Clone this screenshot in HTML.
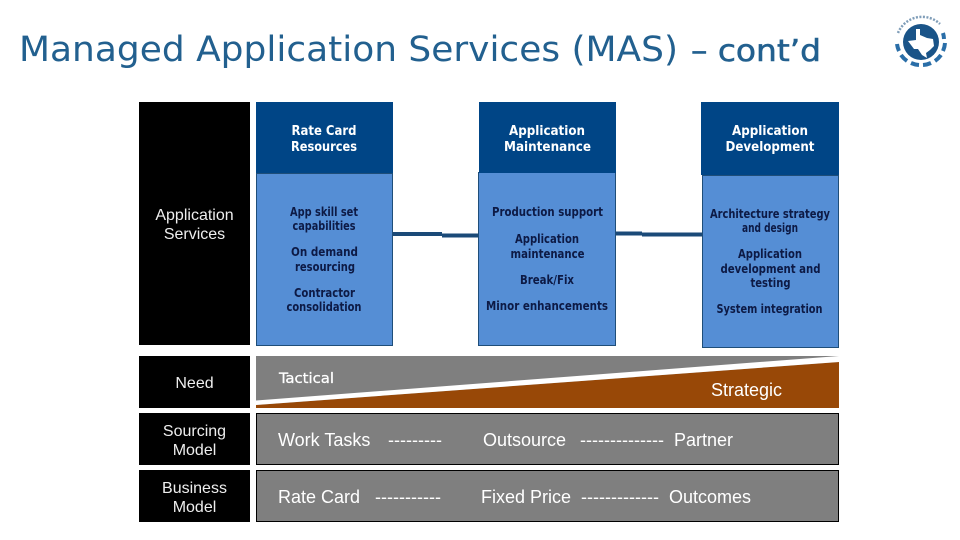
<!DOCTYPE html>
<html>
<head>
<meta charset="utf-8">
<style>
html,body{margin:0;padding:0;background:#fff;width:960px;height:540px;overflow:hidden}
svg{display:block}
text{font-family:"DejaVu Sans Condensed","DejaVu Sans","Liberation Sans",sans-serif}
.a{font-family:"Liberation Sans",sans-serif;fill:#eee;text-anchor:middle;font-size:16px}
.h{fill:#fff;font-weight:bold;font-size:13px;text-anchor:middle}
.b{fill:#0d1a45;font-weight:bold;font-size:12px;text-anchor:middle}
.g{font-family:"Liberation Sans",sans-serif;fill:#fff;font-size:18px}
</style>
</head>
<body>
<svg width="960" height="540" viewBox="0 0 960 540" xmlns="http://www.w3.org/2000/svg">
<rect width="960" height="540" fill="#fff"/>
<text x="19" y="61" font-size="35" fill="#22608f" textLength="659" lengthAdjust="spacingAndGlyphs" style='font-family:"DejaVu Sans",sans-serif'>Managed Application Services (MAS)</text>
<text x="691" y="61" font-size="30" fill="#22608f" stroke="#22608f" stroke-width=".5" textLength="130" lengthAdjust="spacingAndGlyphs">– cont’d</text>

<!-- logo -->
<circle cx="921" cy="42" r="18" fill="#1a5488"/>
<polygon points="916,29 920,29 920,35 927,38 933,39 934,46 930,50 926,53 927,58 922,55 918,49 914,49 911,45 908,41 916,40" fill="#fff"/>
<g fill="none" stroke="#2a6ea8" stroke-width="4">
<path d="M943 33a24 24 0 0 1 1 6"/>
<path d="M945 43a24 24 0 0 1-2 8"/>
<path d="M941 55a24 24 0 0 1-6 6"/>
<path d="M931 63a24 24 0 0 1-8 2"/>
<path d="M919 65a24 24 0 0 1-8-2"/>
<path d="M907 61a24 24 0 0 1-6-6"/>
<path d="M899 51a24 24 0 0 1-2-7"/>
</g>
<path d="M898 33a26 26 0 0 1 42-9" fill="none" stroke="#7f9db8" stroke-width="2.5" stroke-dasharray="2 1.5"/>

<!-- left black -->
<rect x="139" y="102" width="111" height="243" fill="#000"/>
<text class="a" x="194.500" y="220">Application</text>
<text class="a" x="194.500" y="239">Services</text>

<!-- connectors -->
<g fill="#1b4a78">
<rect x="393" y="232" width="49" height="4"/>
<rect x="442" y="233.500" width="37" height="4"/>
<rect x="616" y="231.500" width="26" height="4"/>
<rect x="642" y="232.500" width="60" height="4"/>
</g>

<!-- col 1 -->
<rect x="256.500" y="173.500" width="136" height="172" fill="#558ed5" stroke="#1f4e79"/>
<rect x="256" y="102" width="137" height="71" fill="#004586"/>
<text class="h" x="324" y="135" textLength="65" lengthAdjust="spacingAndGlyphs">Rate Card</text>
<text class="h" x="324" y="151" textLength="66" lengthAdjust="spacingAndGlyphs">Resources</text>
<text class="b" x="324" y="216" textLength="68" lengthAdjust="spacingAndGlyphs">App skill set</text>
<text class="b" x="324" y="230" textLength="63" lengthAdjust="spacingAndGlyphs">capabilities</text>
<text class="b" x="324.500" y="256" textLength="67" lengthAdjust="spacingAndGlyphs">On demand</text>
<text class="b" x="325" y="271" textLength="60" lengthAdjust="spacingAndGlyphs">resourcing</text>
<text class="b" x="324.500" y="297" textLength="61" lengthAdjust="spacingAndGlyphs">Contractor</text>
<text class="b" x="324" y="311" textLength="75" lengthAdjust="spacingAndGlyphs">consolidation</text>

<!-- col 2 -->
<rect x="478.500" y="172.500" width="137" height="173" fill="#558ed5" stroke="#1f4e79"/>
<rect x="479" y="102" width="137" height="71" fill="#004586"/>
<text class="h" x="547" y="135" textLength="76" lengthAdjust="spacingAndGlyphs">Application</text>
<text class="h" x="547.500" y="151" textLength="87" lengthAdjust="spacingAndGlyphs">Maintenance</text>
<text class="b" x="547.500" y="216" textLength="111" lengthAdjust="spacingAndGlyphs">Production support</text>
<text class="b" x="547" y="243" textLength="64" lengthAdjust="spacingAndGlyphs">Application</text>
<text class="b" x="547.500" y="258" textLength="74" lengthAdjust="spacingAndGlyphs">maintenance</text>
<text class="b" x="547" y="284" textLength="54" lengthAdjust="spacingAndGlyphs">Break/Fix</text>
<text class="b" x="547" y="310" textLength="122" lengthAdjust="spacingAndGlyphs">Minor enhancements</text>

<!-- col 3 -->
<rect x="702.500" y="175.500" width="136" height="172" fill="#558ed5" stroke="#1f4e79"/>
<rect x="701" y="102" width="138" height="73" fill="#004586"/>
<text class="h" x="770" y="135" textLength="76" lengthAdjust="spacingAndGlyphs">Application</text>
<text class="h" x="770" y="151" textLength="89" lengthAdjust="spacingAndGlyphs">Development</text>
<text class="b" x="770" y="218" textLength="120" lengthAdjust="spacingAndGlyphs">Architecture strategy</text>
<text class="b" x="770" y="232" textLength="56" lengthAdjust="spacingAndGlyphs">and design</text>
<text class="b" x="770" y="258" textLength="64" lengthAdjust="spacingAndGlyphs">Application</text>
<text class="b" x="770.500" y="273" textLength="100" lengthAdjust="spacingAndGlyphs">development and</text>
<text class="b" x="770.500" y="287" textLength="40" lengthAdjust="spacingAndGlyphs">testing</text>
<text class="b" x="769.500" y="313" textLength="106" lengthAdjust="spacingAndGlyphs">System integration</text>

<!-- bottom labels -->
<rect x="139" y="356" width="111" height="52" fill="#000"/>
<rect x="139" y="413" width="111" height="52" fill="#000"/>
<rect x="139" y="470" width="111" height="52" fill="#000"/>
<text class="a" x="194.500" y="388">Need</text>
<text class="a" x="194.500" y="436">Sourcing</text>
<text class="a" x="194.500" y="455">Model</text>
<text class="a" x="194.500" y="493">Business</text>
<text class="a" x="194.500" y="512">Model</text>

<!-- need band -->
<rect x="256" y="356" width="583" height="52" fill="#7f7f7f"/>
<polygon points="256,408 839,408 839,362 256,405" fill="#984807"/>
<polygon points="256,400.500 839,356 839,362 256,405" fill="#fff"/>
<text x="279" y="383" fill="#fff" stroke="#fff" stroke-width=".25" font-size="14.500" textLength="55" lengthAdjust="spacingAndGlyphs">Tactical</text>
<text class="g" x="711" y="396">Strategic</text>

<!-- rows -->
<rect x="256.500" y="413.500" width="582" height="51" fill="#7f7f7f" stroke="#000"/>
<rect x="256.500" y="470.500" width="582" height="51" fill="#7f7f7f" stroke="#000"/>
<text class="g" x="278" y="446">Work Tasks</text>
<text class="g" x="388" y="446" textLength="54" lengthAdjust="spacingAndGlyphs">---------</text>
<text class="g" x="483" y="446">Outsource</text>
<text class="g" x="580" y="446" textLength="84" lengthAdjust="spacingAndGlyphs">--------------</text>
<text class="g" x="674" y="446">Partner</text>
<text class="g" x="278" y="503">Rate Card</text>
<text class="g" x="375" y="503" textLength="66" lengthAdjust="spacingAndGlyphs">-----------</text>
<text class="g" x="481" y="503">Fixed Price</text>
<text class="g" x="581" y="503" textLength="78" lengthAdjust="spacingAndGlyphs">-------------</text>
<text class="g" x="669" y="503">Outcomes</text>
</svg>
</body>
</html>
